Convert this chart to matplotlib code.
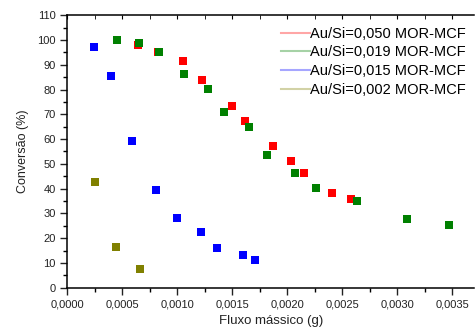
import matplotlib.pyplot as plt
from matplotlib.ticker import MultipleLocator, FuncFormatter
from matplotlib.lines import Line2D

plt.rcParams['font.family'] = ['Liberation Sans', 'DejaVu Sans']

# Au/Si=0,050 MOR-MCF
x_050 = [0.00045, 0.000645, 0.000827, 0.001049, 0.001227, 0.0015, 0.001615, 0.001873, 0.002036, 0.002149, 0.002404, 0.002576]
y_050 = [100.0, 98.1, 95.1, 91.5, 84.0, 73.3, 67.5, 57.4, 51.2, 46.5, 38.4, 35.9]
# Au/Si=0,019 MOR-MCF
x_019 = [0.000449, 0.000655, 0.000834, 0.001064, 0.001276, 0.001427, 0.001649, 0.001818, 0.002067, 0.002264, 0.002631, 0.003085, 0.003473]
y_019 = [100.1, 99.0, 95.0, 86.1, 80.4, 71.1, 64.8, 53.6, 46.4, 40.3, 35.0, 27.6, 25.3]
# Au/Si=0,015 MOR-MCF
x_015 = [0.000245, 0.000394, 0.000588, 0.000803, 0.001, 0.001215, 0.001358, 0.0016, 0.001709]
y_015 = [97.3, 85.4, 59.2, 39.6, 28.3, 22.6, 16.2, 13.1, 11.1]
# Au/Si=0,002 MOR-MCF
x_002 = [0.000255, 0.000443, 0.000658]
y_002 = [42.7, 16.3, 7.7]

labels = ['Au/Si=0,050 MOR-MCF', 'Au/Si=0,019 MOR-MCF', 'Au/Si=0,015 MOR-MCF', 'Au/Si=0,002 MOR-MCF']
colors = ['#ff0000', '#008000', '#0000ff', '#808000']

fig = plt.figure(figsize=(4.75, 3.27), dpi=100)
ax = fig.add_axes([0.1417, 0.1202, 0.8569, 0.833])

series = [(x_050, y_050), (x_019, y_019), (x_015, y_015), (x_002, y_002)]
for (xs, ys), c in zip(series, colors):
    ax.plot(xs, ys, linestyle='none', marker='s', markersize=5.5, color=c, markeredgewidth=0)

ax.set_xlim(0, 0.0037)
ax.set_ylim(0, 110)
ax.xaxis.set_major_locator(MultipleLocator(0.0005))
ax.xaxis.set_minor_locator(MultipleLocator(0.00025))
ax.yaxis.set_major_locator(MultipleLocator(10))
ax.yaxis.set_minor_locator(MultipleLocator(5))
ax.xaxis.set_major_formatter(FuncFormatter(lambda v, p: ('%.4f' % v).replace('.', ',')))
ax.tick_params(which='major', direction='out', length=5, width=1, labelsize=8, colors='#222222')
ax.tick_params(which='minor', direction='out', length=3, width=1)
ax.spines['right'].set_visible(False)
for s in ['left', 'bottom', 'top']:
    ax.spines[s].set_linewidth(1.1)

top = ax.secondary_xaxis('top')
top.xaxis.set_major_locator(MultipleLocator(0.0005))
top.xaxis.set_minor_locator(MultipleLocator(0.00025))
top.tick_params(which='both', direction='in', labeltop=False, length=3)
top.spines['top'].set_visible(False)

ax.set_xlabel('Fluxo mássico (g)', fontsize=9.5, color='#222222', labelpad=4)
ax.set_ylabel('Conversão (%)', fontsize=9, color='#222222', labelpad=6)

handles = [Line2D([0], [0], color=c, alpha=0.35, lw=1.5) for c in colors]
ax.legend(handles, labels, loc='upper right', bbox_to_anchor=(1.0, 0.99), frameon=False,
          fontsize=10.5, handlelength=2.0, handletextpad=0.0, labelspacing=0.32, borderaxespad=0.2)

fig.savefig('out.png', dpi=100)
